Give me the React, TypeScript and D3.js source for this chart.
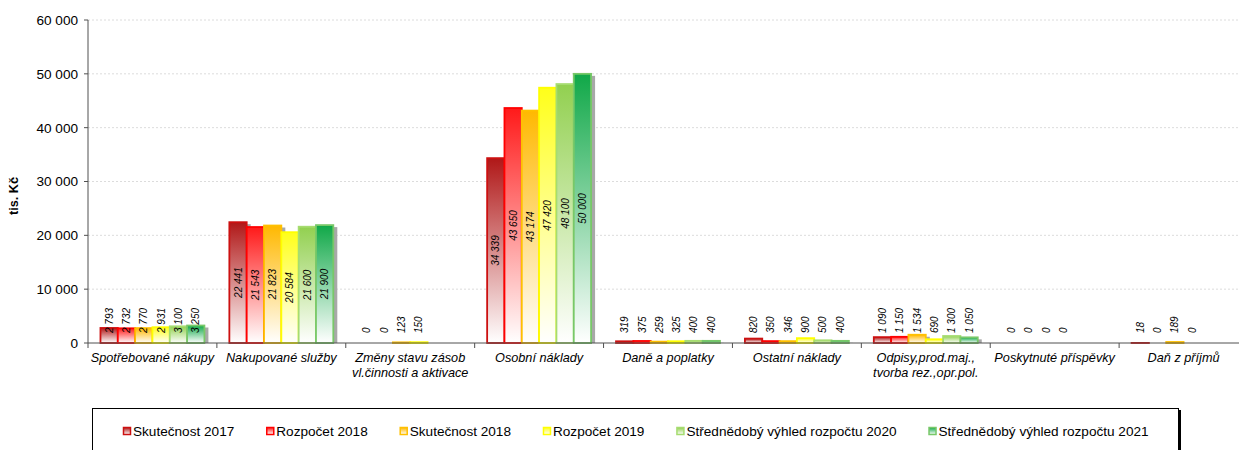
import React, { useMemo } from 'react';
import * as d3 from 'd3';

// chart data
const categories = [
    'Spotřebované nákupy',
    'Nakupované služby',
    'Změny stavu zásob\nvl.činnosti a aktivace',
    'Osobní náklady',
    'Daně a poplatky',
    'Ostatní náklady',
    'Odpisy,prod.maj.,\ntvorba rez.,opr.pol.',
    'Poskytnuté příspěvky',
    'Daň z příjmů',
];

const seriesNames = [
    'Skutečnost 2017',
    'Rozpočet 2018',
    'Skutečnost 2018',
    'Rozpočet 2019',
    'Střednědobý výhled rozpočtu 2020',
    'Střednědobý výhled rozpočtu 2021',
];

const skutecnost2017 = [2793, 22441, 0, 34339, 319, 820, 1090, 0, 18];
const rozpocet2018 = [2732, 21543, 0, 43650, 375, 350, 1150, 0, 0];
const skutecnost2018 = [2770, 21823, 123, 43174, 259, 346, 1534, 0, 189];
const rozpocet2019 = [2931, 20584, 150, 47420, 325, 900, 690, 0, 0];
const vyhled2020 = [3100, 21600, null, 48100, 400, 500, 1300, null, null];
const vyhled2021 = [3250, 21900, null, 50000, 400, 400, 1050, null, null];

const seriesValues: (number | null)[][] = [skutecnost2017, rozpocet2018, skutecnost2018, rozpocet2019, vyhled2020, vyhled2021];

const yTicks = [0, 10000, 20000, 30000, 40000, 50000, 60000];

// styles
const fills = ['#B01818', '#FF1A1A', '#FFB800', '#FFFF1A', '#92D050', '#10A848'];
const strokes = ['#CC1010', '#FF0000', '#FFC000', '#FFFF00', '#A6DC70', '#78C868'];

const FONT = "Arial, 'Liberation Sans', sans-serif";
const W = 1239, H = 450;
const margins = { left: 88, right: -9, top: 20, bottom: 107 };

const fmt = d3.formatLocale({ decimal: ',', thousands: '\u00a0', grouping: [3], currency: ['', ' Kč'] }).format(',d');

let ctx: CanvasRenderingContext2D | null = null;
const measure = (s: string, font: string) => {
    if (!ctx) ctx = document.createElement('canvas').getContext('2d');
    if (!ctx) return s.length * 7;
    ctx.font = font;
    return ctx.measureText(s).width;
};

const YAxis = ({ yScale, x0, x1 }: any) => (
    <g>
        {yTicks.map(t => (
            <g key={t}>
                {t > 0 && <line x1={x0} x2={x1} y1={yScale(t)} y2={yScale(t)} stroke="#DCDCDC" strokeDasharray="2,2" />}
                <line x1={x0 - 4} x2={x0} y1={yScale(t)} y2={yScale(t)} stroke="#505050" />
                <text x={x0 - 10} y={yScale(t)} dy="0.36em" textAnchor="end" fontSize="13.6px" fontFamily={FONT} fill="#000">{fmt(t)}</text>
            </g>
        ))}
        <line x1={x0} x2={x0} y1={yScale(60000)} y2={yScale(0)} stroke="#505050" />
        <text transform={`translate(14,196)rotate(-90)`} textAnchor="middle" dy="0.35em" fontSize="12.7px" fontWeight="bold" fontFamily={FONT}>tis. Kč</text>
    </g>
);

const XAxis = ({ xScale, y0 }: any) => {
    const bw = xScale.bandwidth();
    return (
        <g>
            <line x1={xScale.range()[0]} x2={xScale.range()[1]} y1={y0} y2={y0} stroke="#505050" />
            {categories.map((c, i) => (
                <g key={c}>
                    <line x1={xScale(c)} x2={xScale(c)} y1={y0} y2={y0 + 5} stroke="#505050" />
                    {c.split('\n').map((ln, j) => (
                        <text key={j} x={xScale(c) + bw / 2} y={y0 + 19 + j * 15} textAnchor="middle" fontSize="12.7px" fontStyle="italic" fontFamily={FONT}>{ln}</text>
                    ))}
                </g>
            ))}
            <line x1={xScale.range()[1]} x2={xScale.range()[1]} y1={y0} y2={y0 + 5} stroke="#505050" />
        </g>
    );
};

const Bars = ({ xScale, sub, yScale }: any) => {
    const bw = sub.bandwidth();
    const base = yScale(0);
    return (
        <g>
            {categories.map((c, ci) => {
                const gx = xScale(c);
                const items = seriesNames.map((s, si) => ({ s, si, v: seriesValues[si][ci] }))
                    .filter(d => d.v !== null) as { s: string, si: number, v: number }[];
                return (
                    <g key={c}>
                        {items.filter(d => d.v > 0).map(d => (
                            <rect key={'sh' + d.si} x={gx + sub(d.s) + 4} y={yScale(d.v) + 2} width={bw} height={Math.max(0, base - yScale(d.v) - 2)} fill="#A8A8A8" />
                        ))}
                        {items.filter(d => d.v > 0).map(d => (
                            <rect key={'b' + d.si} x={gx + sub(d.s)} y={yScale(d.v)} width={bw} height={base - yScale(d.v)}
                                fill={`url(#grad${d.si})`} stroke={strokes[d.si]} strokeWidth={1.8} />
                        ))}
                        {items.map(d => {
                            const label = fmt(d.v);
                            const len = measure(label, `italic 10px ${FONT}`);
                            const cy = Math.min((yScale(d.v) + base) / 2, base - 10 - len / 2);
                            const cx = gx + sub(d.s) + bw / 2;
                            return (
                                <text key={'l' + d.si} transform={`translate(${cx},${cy})rotate(-90)`} textAnchor="middle" dy="0.35em"
                                    fontSize="10px" fontStyle="italic" fontFamily={FONT} fill="#000">{label}</text>
                            );
                        })}
                    </g>
                );
            })}
        </g>
    );
};

const Legend = () => {
    const font = `13.6px ${FONT}`;
    const items = useMemo(() => {
        let x = 123;
        return seriesNames.map((s, i) => {
            const it = { s, i, x };
            x += 8 + 2 + measure(s, font) + 32;
            return it;
        });
    }, []);
    return (
        <g>
            <rect x={1178} y={410} width={3} height={60} fill="#000" />
            <rect x={92.5} y={408.5} width={1086} height={60} fill="#fff" stroke="#000" />
            {items.map(d => (
                <g key={d.s}>
                    <rect x={d.x + 0.5} y={427.5} width={7} height={7} fill={`url(#grad${d.i})`} stroke={strokes[d.i]} strokeWidth={1.5} />
                    <text x={d.x + 10} y={436} fontSize="13.6px" fontFamily={FONT} fill="#000">{d.s}</text>
                </g>
            ))}
        </g>
    );
};

const App = () => {
    const xScale = d3.scaleBand<string>()
        .domain(categories)
        .range([margins.left, W - margins.right])
        .paddingInner(0)
        .paddingOuter(0);

    const sub = d3.scaleBand<string>()
        .domain(seriesNames)
        .range([0, xScale.bandwidth()])
        .paddingInner(0)
        .paddingOuter(0.72);

    const yScale = d3.scaleLinear()
        .domain([0, 60000])
        .range([H - margins.bottom, margins.top]);

    return (
        <svg width={W} height={H} style={{ position: 'absolute', left: 0, top: 0, background: '#fff' }}>
            <defs>
                {fills.map((f, i) => (
                    <linearGradient key={i} id={`grad${i}`} x1="0" y1="0" x2="0" y2="1">
                        <stop offset="0%" stopColor={f} />
                        <stop offset="100%" stopColor="#FFFFFF" />
                    </linearGradient>
                ))}
            </defs>
            <YAxis yScale={yScale} x0={margins.left} x1={W} />
            <Bars xScale={xScale} sub={sub} yScale={yScale} />
            <XAxis xScale={xScale} y0={yScale(0)} />
            <Legend />
        </svg>
    );
};

export default App;
